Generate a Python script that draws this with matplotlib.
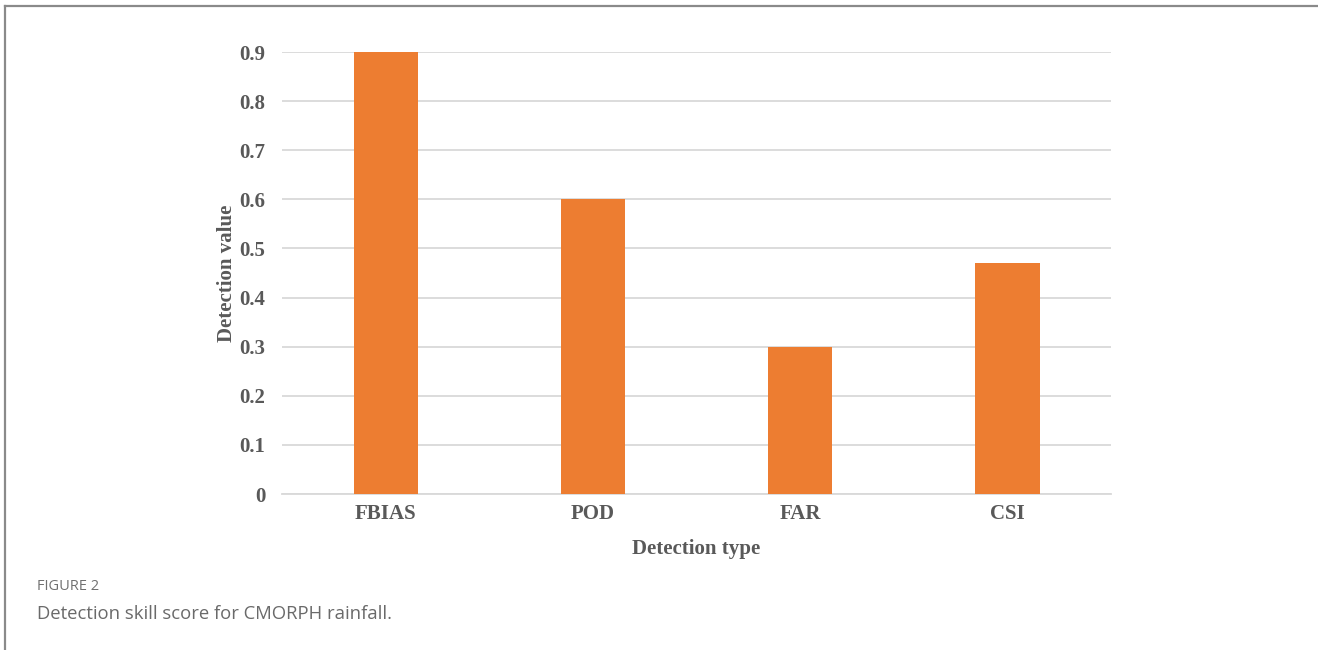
import matplotlib
matplotlib.use("Agg")
import matplotlib.pyplot as plt
from matplotlib.lines import Line2D

# Detection skill scores for CMORPH rainfall
categories = ["FBIAS", "POD", "FAR", "CSI"]
values = [0.90, 0.60, 0.30, 0.47]
yticks = [0, 0.1, 0.2, 0.3, 0.4, 0.5, 0.6, 0.7, 0.8, 0.9]
ytick_labels = ["0", "0.1", "0.2", "0.3", "0.4", "0.5", "0.6", "0.7", "0.8", "0.9"]

text_color = "#595959"
bar_color = "#ED7D31"
serif = ["Liberation Serif", "DejaVu Serif"]

fig = plt.figure(figsize=(13.18, 6.5), dpi=100)
ax = fig.add_axes([0.2140, 0.2400, 0.6290, 0.6800])

x = list(range(len(categories)))
ax.bar(x, values, width=0.31, color=bar_color, zorder=3)

ax.set_xlim(-0.5, len(categories) - 0.5)
ax.set_ylim(0, 0.9)
ax.set_yticks(yticks)
ax.set_yticklabels(ytick_labels)
ax.set_xticks(x)
ax.set_xticklabels(categories)

ax.grid(axis="y", color="#d9d9d9", linewidth=1.3, zorder=0)
ax.set_axisbelow(True)
for side in ["top", "right", "left"]:
    ax.spines[side].set_visible(False)
ax.spines["bottom"].set_color("#d9d9d9")
ax.spines["bottom"].set_linewidth(1.3)
ax.tick_params(axis="both", length=0)
ax.tick_params(axis="y", pad=12)
ax.tick_params(axis="x", pad=7)

for lab in ax.get_xticklabels() + ax.get_yticklabels():
    lab.set_fontfamily(serif)
    lab.set_fontweight("bold")
    lab.set_fontsize(15)
    lab.set_color(text_color)

ax.set_xlabel("Detection type", fontfamily=serif, fontweight="bold",
              fontsize=15, color=text_color, labelpad=11)
ax.set_ylabel("Detection value", fontfamily=serif, fontweight="bold",
              fontsize=15, color=text_color, labelpad=1.5)

# Caption below the chart
fig.text(37 / 1318, 1 - 587 / 650, "FIGURE 2", fontfamily="Open Sans",
         fontsize=10.5, fontweight="medium", color="#707070",
         va="center", ha="left")
fig.text(37 / 1318, 1 - 614 / 650, "Detection skill score for CMORPH rainfall.",
         fontfamily="Open Sans", fontsize=13.3, color="#6a6a6a",
         va="center", ha="left")

# Frame lines along the top and left edges
fig.add_artist(Line2D([5 / 1318, 1.0], [1 - 6 / 650, 1 - 6 / 650],
                      transform=fig.transFigure, color="#8a8a8a", linewidth=1.6))
fig.add_artist(Line2D([5 / 1318, 5 / 1318], [0.0, 1 - 6 / 650],
                      transform=fig.transFigure, color="#8a8a8a", linewidth=1.6))

fig.savefig("out.png", dpi=100, facecolor="white")
